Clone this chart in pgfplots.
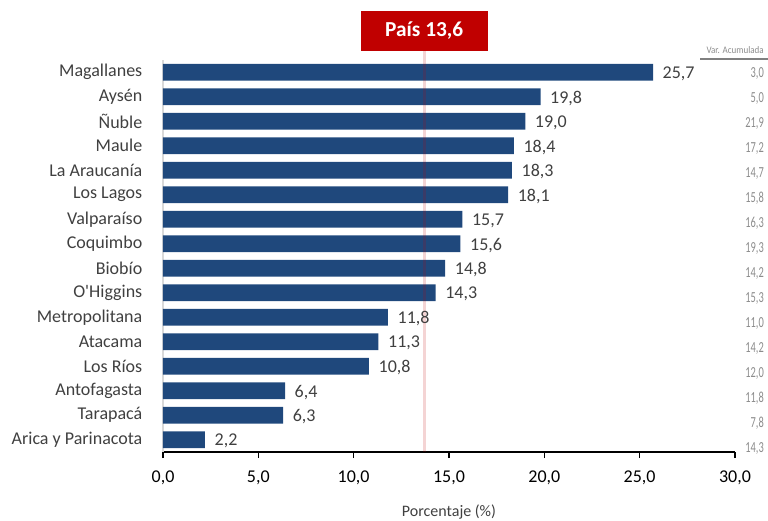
\documentclass[border=0pt]{standalone}
\usepackage{pgfplots}
\pgfplotsset{compat=1.18}
\usepackage{fontspec}
\setmainfont{Carlito}
\newfontfamily\rawcarlito{Carlito}[Ligatures=TeXOff]
\definecolor{barblue}{RGB}{31,72,124}
\definecolor{txtgray}{RGB}{64,64,64}
\definecolor{vargray}{RGB}{140,140,140}
\definecolor{paisred}{RGB}{192,0,0}
\definecolor{axgray}{RGB}{217,217,217}
\begin{document}
\begin{tikzpicture}
\path[use as bounding box] (-122.25pt,-51.75pt) rectangle (453.75pt,339pt);
\begin{axis}[
  scale only axis, width=429pt, height=294pt,
  xmin=0, xmax=30, ymin=-0.5, ymax=15.5,
  clip=false,
  axis x line=bottom, axis y line=left,
  x axis line style={-, black, line width=1.1pt},
  y axis line style={-, axgray, line width=1.1pt},
  xtick={0,5,...,30},
  xtick style={black, line width=0.9pt},
  major tick length=4.5pt, tick align=outside,
  ytick={0,...,15},
  ytick style={draw=none},
  yticklabels={Arica y Parinacota, Tarapacá, Antofagasta, Los Ríos, Atacama,
    Metropolitana, O{\rawcarlito'}Higgins, Biobío, Coquimbo, Valparaíso, Los Lagos,
    La Araucanía, Maule, Ñuble, Aysén\hspace{3pt}, Magallanes\hspace{3pt}},
  yticklabel style={font=\fontsize{13.5}{14}\selectfont, text=txtgray, anchor=east, xshift=-7.5pt},
  xticklabel style={font=\fontsize{13.5}{14}\selectfont, text=black, yshift=-6pt,
    /pgf/number format/.cd, fixed, fixed zerofill, precision=1, use comma},
  /pgf/number format/assume math mode=true,
  xlabel={Porcentaje (\%)},
  xlabel style={font=\fontsize{12}{13}\selectfont, text=txtgray, at={(axis description cs:0.5,0)}, anchor=center, yshift=-45pt},
]
% porcentaje por region (de abajo hacia arriba)
\addplot[xbar, bar width=12.5pt, fill=barblue, draw=none,
  nodes near coords={\pgfmathprintnumber[fixed,fixed zerofill,precision=1,use comma]{\pgfplotspointmeta}},
  nodes near coords style={font=\fontsize{13.5}{14}\selectfont, text=txtgray, anchor=west, xshift=3.75pt, yshift=-1pt}]
  table {
x y
2.2 0
6.3 1
6.4 2
10.8 3
11.3 4
11.8 5
14.3 6
14.8 7
15.6 8
15.7 9
18.1 10
18.3 11
18.4 12
19.0 13
19.8 14
25.7 15
};
% linea pais
\addplot[paisred, opacity=0.17, line width=2.3pt, mark=none]
  coordinates {(13.7,-0.5) (13.7,15.87)};
% columna var. acumulada
\addplot[draw=none, mark=none,
  nodes near coords={\pgfmathprintnumber[fixed,fixed zerofill,precision=1,use comma]{\pgfplotspointmeta}},
  point meta=explicit,
  nodes near coords style={font=\fontsize{11.5}{12}\selectfont, text=vargray, anchor=east, inner sep=0pt, xscale=0.68}]
  table[meta=v] {
x y v
31.52 -0.35 14.3
31.52 0.67 7.8
31.52 1.69 11.8
31.52 2.71 12.0
31.52 3.73 14.2
31.52 4.75 11.0
31.52 5.77 15.3
31.52 6.79 14.2
31.52 7.81 19.3
31.52 8.83 16.3
31.52 9.85 15.8
31.52 10.86 14.7
31.52 11.88 17.2
31.52 12.90 21.9
31.52 13.92 5.0
31.52 14.94 3.0
};
\node[fill=paisred, text=white, font=\fontsize{16}{17}\selectfont\bfseries,
  minimum width=95pt, minimum height=30pt, inner sep=0pt]
  at ([yshift=21.75pt]axis cs:13.7,15.5) {País 13,6};
\end{axis}
\node[font=\fontsize{7.5}{8}\selectfont, text=vargray, anchor=east, inner sep=0pt, xscale=0.9] at (450.75pt,301.5pt) {Var. Acumulada};
\draw[gray, line width=1.1pt] (402.75pt,294.75pt) -- (453.75pt,294.75pt);
\end{tikzpicture}
\end{document}
